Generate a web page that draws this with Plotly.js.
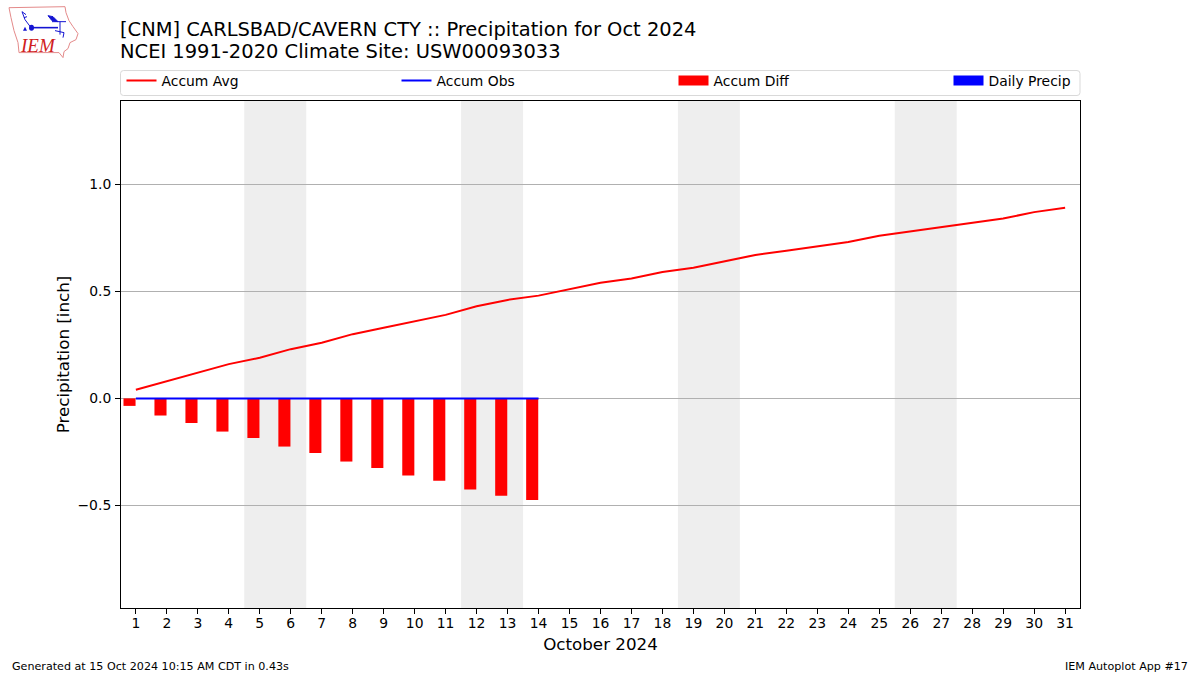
<!DOCTYPE html>
<html><head><meta charset="utf-8">
<script src="https://cdn.plot.ly/plotly-3.0.1.min.js"></script>
<style>html,body{margin:0;padding:0;background:#fff}#c{width:1200px;height:675px}</style></head>
<body><div id="c"></div>
<script>
const days = Array.from({length:31},(_,i)=>i+1);
const accumAvg = [0.04,0.08,0.12,0.16,0.19,0.23,0.26,0.30,0.33,0.36,0.39,0.43,0.46,0.48,0.51,0.54,0.56,0.59,0.61,0.64,0.67,0.69,0.71,0.73,0.76,0.78,0.80,0.82,0.84,0.87,0.89];
const accumObs = [0,0,0,0,0,0,0,0,0,0,0,0,0,0];
const accumDiff = [-0.035,-0.08,-0.115,-0.155,-0.185,-0.225,-0.255,-0.295,-0.325,-0.36,-0.385,-0.425,-0.455,-0.475];
const dailyPrecip = [0,0,0,0,0,0,0,0,0,0,0,0,0,0];
const weekendStarts = [4.5,11.5,18.5,25.5];
const yTicks = [-0.5,0,0.5,1.0];
const W=1200,H=675,L=121,R=1080,T=100.5,B=608.5;
const px=x=>(x-L)/(R-L), py=y=>(B-y)/(B-T);
const FONT='"DejaVu Sans", sans-serif';
const obsDays=days.slice(0,14);
const traces=[
 {type:'bar',x:obsDays,y:accumDiff,offset:-0.40,width:0.39,marker:{color:'#ff0000',line:{width:0}},showlegend:false,name:'Accum Diff'},
 {type:'bar',x:obsDays,y:dailyPrecip,offset:0,width:0.39,marker:{color:'#0000ff',line:{width:0}},showlegend:false,name:'Daily Precip'},
 {type:'scatter',mode:'lines',x:days,y:accumAvg,name:'Accum Avg',line:{color:'#ff0000',width:2},legend:'legend'},
 {type:'scatter',mode:'lines',x:obsDays,y:accumObs,name:'Accum Obs',line:{color:'#0000ff',width:2},legend:'legend2'},
 {type:'scatter',mode:'lines',x:[null],y:[null],name:'Accum Diff',line:{color:'#ff0000',width:10},legend:'legend3'},
 {type:'scatter',mode:'lines',x:[null],y:[null],name:'Daily Precip',line:{color:'#0000ff',width:10},legend:'legend4'}
];
const rr=(x0,y0,x1,y1,r)=>{const X0=px(x0),X1=px(x1),Y0=py(y0),Y1=py(y1),rx=r/(R-L),ry=r/(B-T);
 return `M${X0+rx},${Y0} L${X1-rx},${Y0} Q${X1},${Y0} ${X1},${Y0-ry} L${X1},${Y1+ry} Q${X1},${Y1} ${X1-rx},${Y1} L${X0+rx},${Y1} Q${X0},${Y1} ${X0},${Y1+ry} L${X0},${Y0-ry} Q${X0},${Y0} ${X0+rx},${Y0} Z`;};
const poly=pts=>'M'+pts.map(p=>px(p[0])+','+py(p[1])).join(' L');
const iowa=[[9,7],[65,6],[66,12],[69,20],[73,26],[78,33],[76,39],[70,42],[68,48],[64,51],[63,57],[59,52],[19,52],[18,42],[14,30],[11,17]];
const blue='#1414d2';
const shapes=[
 ...weekendStarts.map(s=>({type:'rect',xref:'x',yref:'paper',x0:s,x1:s+2,y0:0,y1:1,layer:'below',fillcolor:'#eeeeee',line:{width:0}})),
 {type:'path',xref:'paper',yref:'paper',path:rr(120.5,70,1080,95,3),line:{color:'#d9d9d9',width:1},fillcolor:'#ffffff'},
 {type:'path',xref:'paper',yref:'paper',path:poly(iowa)+' Z',line:{color:'#e48a8a',width:1}},
 {type:'path',xref:'paper',yref:'paper',path:poly([[31,27],[58,27]]),line:{color:blue,width:1.6}},
 {type:'path',xref:'paper',yref:'paper',path:poly([[31,27],[25,19],[22,11]])+' '+poly([[22,11],[26,14]])+' '+poly([[24,17],[27,16]]),line:{color:blue,width:1}},
 {type:'path',xref:'paper',yref:'paper',path:poly([[48,15],[53,16],[58,21],[52,20]])+' Z',fillcolor:blue,line:{color:blue,width:1}},
 {type:'path',xref:'paper',yref:'paper',path:poly([[52,21],[66,21]])+' '+poly([[60,21],[60,34]])+' '+poly([[55,30],[64,32],[63,37]]),line:{color:blue,width:1}},
 {type:'circle',xref:'paper',yref:'paper',x0:px(29),x1:px(34),y0:py(30),y1:py(24),fillcolor:blue,line:{width:0}},
 {type:'path',xref:'paper',yref:'paper',path:poly([[23,30],[25,26],[27,30]])+' Z',fillcolor:blue,line:{width:0}}
];
const ann=(text,x,y,size,xanchor,color,extra)=>Object.assign({text,xref:'paper',yref:'paper',x:px(x),y:py(y),xanchor,yanchor:'middle',showarrow:false,font:{family:FONT,size,color:color||'#000'},borderpad:0,borderwidth:0},extra||{});
const leg=x=>({orientation:'h',x:px(x),xanchor:'left',y:py(80.5),yanchor:'middle',bgcolor:'rgba(0,0,0,0)',borderwidth:0,itemwidth:30,font:{family:FONT,size:13.9,color:'#000'},itemclick:false,itemdoubleclick:false});
const layout={
 width:W,height:H,paper_bgcolor:'#fff',plot_bgcolor:'#fff',
 margin:{l:L,r:W-R,t:T,b:H-B,pad:0},
 font:{family:FONT,size:13.9,color:'#000'},
 title:{text:'[CNM] CARLSBAD/CAVERN CTY :: Precipitation for Oct 2024',xref:'container',x:120/W,xanchor:'left',yref:'container',y:1-29/H,yanchor:'middle',font:{family:FONT,size:19.47,color:'#000'}},
 barmode:'overlay',
 xaxis:{range:[0.52,31.48],tickmode:'array',tickvals:days,ticktext:days.map(String),ticks:'outside',ticklen:5,tickwidth:1,tickcolor:'#000',ticklabelstandoff:-3,showgrid:false,zeroline:false,showline:true,mirror:true,linecolor:'#000',linewidth:1,tickangle:0,title:{text:'October 2024',font:{size:16.7},standoff:8},tickfont:{size:13.9}},
 yaxis:{range:[-0.979,1.389],tickmode:'array',tickvals:yTicks,ticktext:yTicks.map(v=>(v<0?'\u2212':'')+Math.abs(v).toFixed(1)),ticks:'outside',ticklen:5,tickwidth:1,tickcolor:'#000',ticklabelstandoff:1,showgrid:true,gridcolor:'#b0b0b0',gridwidth:1,zeroline:false,showline:true,mirror:true,linecolor:'#000',linewidth:1,title:{text:'Precipitation [inch]',font:{size:16.7},standoff:3},tickfont:{size:13.9}},
 legend:leg(121.5),legend2:leg(396.5),legend3:leg(673.5),legend4:leg(948.5),
 shapes,
 annotations:[
  ann('NCEI 1991-2020 Climate Site: USW00093033',120,50.5,19.47,'left'),
  ann('Generated at 15 Oct 2024 10:15 AM CDT in 0.43s',12,667,11.14,'left'),
  ann('IEM Autoplot App #17',1188,667,11.14,'right'),
  ann('<i>IEM</i>',38,45,19,'center','#d02020',{font:{family:'"Liberation Serif", serif',size:19,color:'#d02020'}})
 ],
 hovermode:'closest',showlegend:true
};
Plotly.newPlot('c',traces,layout,{displayModeBar:false,responsive:false});
</script></body></html>
